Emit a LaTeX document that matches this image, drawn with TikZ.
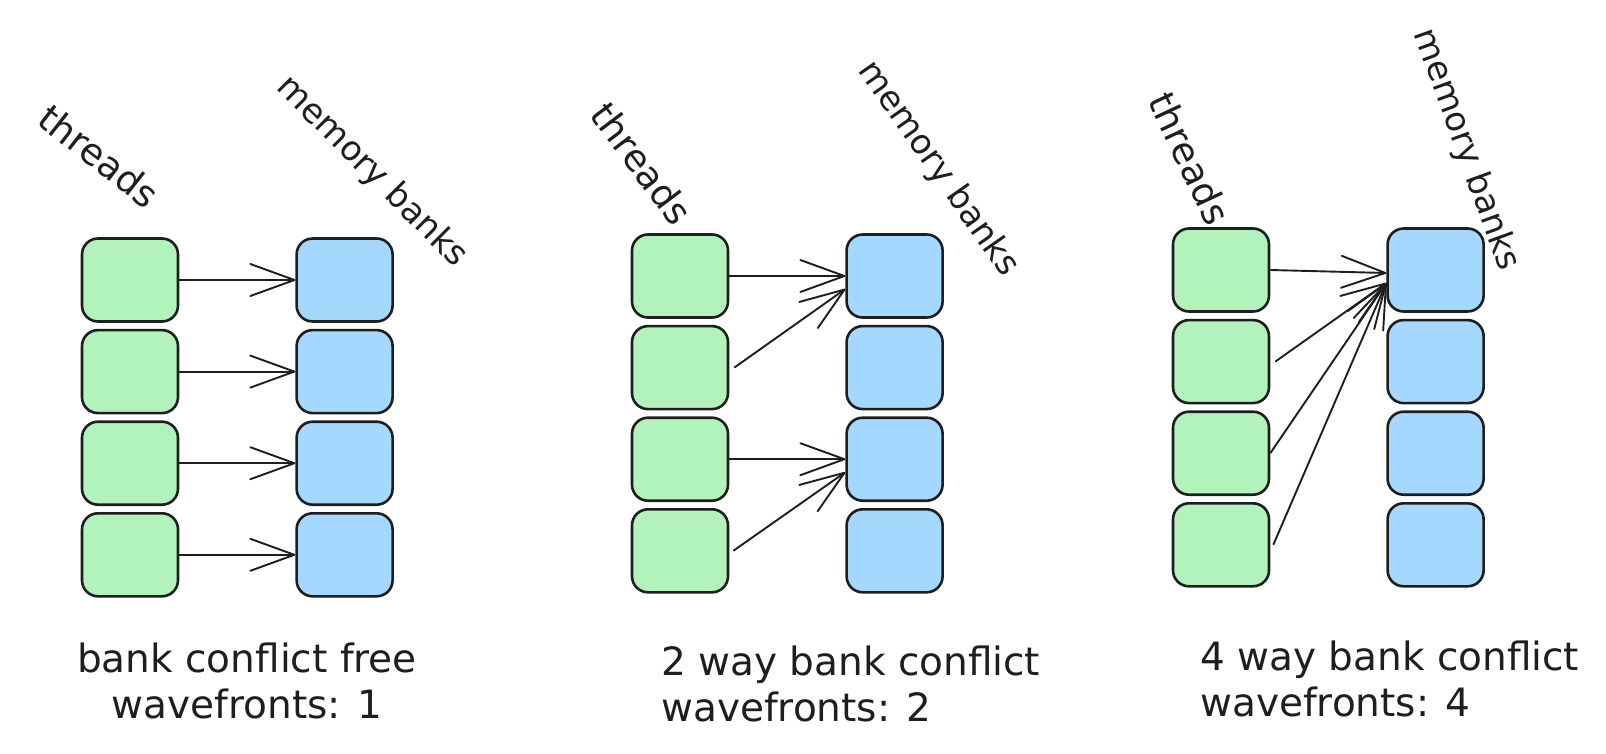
\documentclass[tikz,border=0pt]{standalone}
\usepackage{fontspec}
\setmainfont{DejaVu Sans}
\usepackage{tikz}
\usetikzlibrary{arrows.meta, positioning}
\definecolor{ink}{HTML}{1E1E1E}
\definecolor{mint}{HTML}{B2F2BB}
\definecolor{sky}{HTML}{A5D8FF}
\tikzstyle{thread} = [rectangle, rounded corners=16pt, minimum width=96pt, minimum height=83pt, draw=ink, line width=2.6pt, fill=mint]
\tikzstyle{bank} = [thread, fill=sky]
\tikzstyle{tag} = [font=\fontsize{34}{40}\selectfont, text=ink, inner sep=0pt]
\tikzstyle{bigtag} = [tag, font=\fontsize{37}{44}\selectfont]
\tikzstyle{caption} = [font=\fontsize{39}{46}\selectfont, text=ink, inner sep=0pt]
\tikzstyle{arrow} = [draw=ink, line width=1.9pt, -{Straight Barb[length=44pt, width=32pt, line join=round, line cap=round]}]

\begin{document}
\begin{tikzpicture}[x=1pt, y=-1pt, node distance=6pt]
\useasboundingbox (0,0) rectangle (1606,754);

% Conflict free
\node (p1t1) [thread] at (130,280) {};
\node (p1t2) [thread, below=of p1t1] {};
\node (p1t3) [thread, below=of p1t2] {};
\node (p1t4) [thread, below=of p1t3] {};
\node (p1b1) [bank, right=116pt of p1t1] {};
\node (p1b2) [bank, below=of p1b1] {};
\node (p1b3) [bank, below=of p1b2] {};
\node (p1b4) [bank, below=of p1b3] {};
\node (p1th) [bigtag, rotate=-38] at (99,156) {threads};
\node (p1mb) [tag, rotate=-45] at (372,172) {memory banks};
\node (p1cap) [caption, align=center, anchor=north] at (247,643) {bank conflict free\\wavefronts: 1};

% 2 way
\node (p2t1) [thread] at (680,276) {};
\node (p2t2) [thread, below=of p2t1] {};
\node (p2t3) [thread, below=of p2t2] {};
\node (p2t4) [thread, below=of p2t3] {};
\node (p2b1) [bank, right=116pt of p2t1] {};
\node (p2b2) [bank, below=of p2b1] {};
\node (p2b3) [bank, below=of p2b2] {};
\node (p2b4) [bank, below=of p2b3] {};
\node (p2th) [bigtag, rotate=-53] at (642,163) {threads};
\node (p2mb) [tag, rotate=-55] at (938,169) {memory banks};
\node (p2cap) [caption, align=left, anchor=north west] at (661,646) {2 way bank conflict\\wavefronts: 2};

% 4 way
\node (p3t1) [thread] at (1221,270) {};
\node (p3t2) [thread, below=of p3t1] {};
\node (p3t3) [thread, below=of p3t2] {};
\node (p3t4) [thread, below=of p3t3] {};
\node (p3b1) [bank, right=116pt of p3t1] {};
\node (p3b2) [bank, below=of p3b1] {};
\node (p3b3) [bank, below=of p3b2] {};
\node (p3b4) [bank, below=of p3b3] {};
\node (p3th) [bigtag, rotate=-65] at (1190,158) {threads};
\node (p3mb) [tag, rotate=-70] at (1466,150) {memory banks};
\node (p3cap) [caption, align=left, anchor=north west] at (1200,641) {4 way bank conflict\\wavefronts: 4};

% Arrows
\draw [arrow] (p1t1.east) -- (p1b1.west);
\draw [arrow] (p1t2.east) -- (p1b2.west);
\draw [arrow] (p1t3.east) -- (p1b3.west);
\draw [arrow] (p1t4.east) -- (p1b4.west);

\draw [arrow] (p2t1.east) -- (p2b1.west);
\draw [arrow] ([xshift=5pt]p2t2.east) -- ([yshift=-13pt]p2b1.west);
\draw [arrow] (p2t3.east) -- (p2b3.west);
\draw [arrow] ([xshift=4pt]p2t4.east) -- ([yshift=-13pt]p2b3.west);

\draw [arrow] (p3t1.east) -- ([yshift=-3pt]p3b1.west);
\draw [arrow] ([xshift=5pt]p3t2.east) -- ([yshift=-13pt]p3b1.west);
\draw [arrow] (p3t3.east) -- ([yshift=-13pt]p3b1.west);
\draw [arrow] ([xshift=3pt]p3t4.east) -- ([yshift=-13pt]p3b1.west);

\end{tikzpicture}
\end{document}
